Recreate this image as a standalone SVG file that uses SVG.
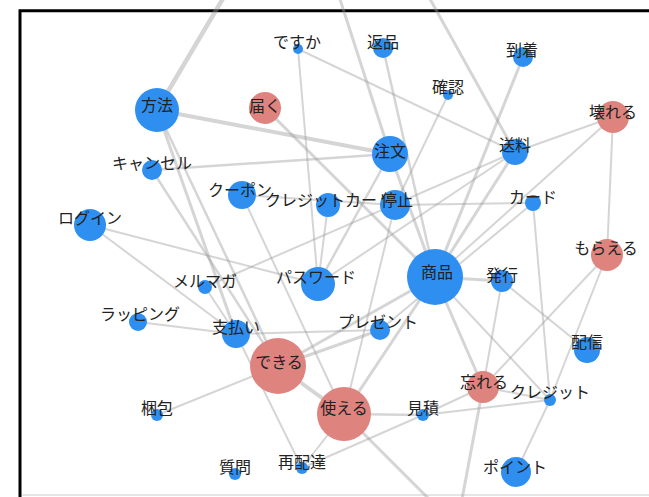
<svg xmlns="http://www.w3.org/2000/svg" width="649" height="497" viewBox="0 0 649 497">
<style>
.e{stroke:#9a9a9a;stroke-opacity:.42;fill:none;stroke-linecap:round}
.b{fill:#2e8ff0}
.r{fill:#df837f}
text{font-family:"Noto Sans CJK JP","Noto Sans",sans-serif;font-size:16px;fill:#222;text-anchor:middle}
</style>
<rect x="0" y="0" width="649" height="497" fill="#fff"/>
<path d="M20,497 V10.8 H649" fill="none" stroke="#000" stroke-width="3"/>
<line x1="22" y1="495" x2="649" y2="495" stroke="#ddd" stroke-width="1.5"/>
<g id="connectors">
<line class="e" stroke-width="4.5" x1="157" y1="110" x2="228" y2="-10"/>
<line class="e" stroke-width="4" x1="157" y1="110" x2="390" y2="154"/>
<line class="e" stroke-width="3" x1="157" y1="110" x2="236" y2="334"/>
<line class="e" stroke-width="2.5" x1="157" y1="110" x2="278" y2="366"/>
<line class="e" stroke-width="2.5" x1="152" y1="170" x2="390" y2="154"/>
<line class="e" stroke-width="2.5" x1="152" y1="170" x2="278" y2="366"/>
<line class="e" stroke-width="3" x1="265" y1="108" x2="435" y2="277"/>
<line class="e" stroke-width="2" x1="298" y1="49" x2="318" y2="284"/>
<line class="e" stroke-width="2" x1="298" y1="49" x2="515" y2="152"/>
<line class="e" stroke-width="2.5" x1="383" y1="48" x2="435" y2="277"/>
<line class="e" stroke-width="3" x1="390" y1="154" x2="337" y2="-10"/>
<line class="e" stroke-width="3" x1="515" y1="152" x2="425" y2="-10"/>
<line class="e" stroke-width="3" x1="523" y1="57" x2="435" y2="277"/>
<line class="e" stroke-width="2" x1="613" y1="117" x2="515" y2="152"/>
<line class="e" stroke-width="2" x1="613" y1="117" x2="435" y2="277"/>
<line class="e" stroke-width="2" x1="613" y1="117" x2="607" y2="255"/>
<line class="e" stroke-width="2" x1="515" y1="152" x2="205" y2="287"/>
<line class="e" stroke-width="2" x1="515" y1="152" x2="318" y2="284"/>
<line class="e" stroke-width="2" x1="395" y1="205" x2="533" y2="203"/>
<line class="e" stroke-width="2" x1="448" y1="95" x2="395" y2="205"/>
<line class="e" stroke-width="2" x1="90" y1="225" x2="318" y2="284"/>
<line class="e" stroke-width="2" x1="90" y1="225" x2="236" y2="334"/>
<line class="e" stroke-width="2" x1="138" y1="322" x2="236" y2="334"/>
<line class="e" stroke-width="2" x1="157" y1="415" x2="278" y2="366"/>
<line class="e" stroke-width="2" x1="302" y1="468" x2="344" y2="414"/>
<line class="e" stroke-width="2" x1="302" y1="468" x2="423" y2="415"/>
<line class="e" stroke-width="2" x1="236" y1="334" x2="302" y2="468"/>
<line class="e" stroke-width="2.5" x1="344" y1="414" x2="423" y2="415"/>
<line class="e" stroke-width="3" x1="344" y1="414" x2="440" y2="510"/>
<line class="e" stroke-width="4" x1="278" y1="366" x2="344" y2="414"/>
<line class="e" stroke-width="3" x1="278" y1="366" x2="380" y2="330"/>
<line class="e" stroke-width="2" x1="236" y1="334" x2="380" y2="330"/>
<line class="e" stroke-width="2" x1="483" y1="387" x2="423" y2="415"/>
<line class="e" stroke-width="2" x1="483" y1="387" x2="550" y2="400"/>
<line class="e" stroke-width="3" x1="483" y1="387" x2="435" y2="277"/>
<line class="e" stroke-width="3" x1="483" y1="387" x2="460" y2="510"/>
<line class="e" stroke-width="2" x1="550" y1="400" x2="516" y2="472"/>
<line class="e" stroke-width="2" x1="550" y1="400" x2="533" y2="203"/>
<line class="e" stroke-width="2" x1="423" y1="415" x2="550" y2="400"/>
<line class="e" stroke-width="2" x1="502" y1="281" x2="587" y2="350"/>
<line class="e" stroke-width="2" x1="607" y1="255" x2="483" y2="387"/>
<line class="e" stroke-width="2" x1="607" y1="255" x2="550" y2="400"/>
<line class="e" stroke-width="3" x1="435" y1="277" x2="502" y2="281"/>
<line class="e" stroke-width="3" x1="435" y1="277" x2="344" y2="414"/>
<line class="e" stroke-width="3" x1="435" y1="277" x2="278" y2="366"/>
<line class="e" stroke-width="2.5" x1="390" y1="154" x2="318" y2="284"/>
<line class="e" stroke-width="3" x1="390" y1="154" x2="435" y2="277"/>
<line class="e" stroke-width="2" x1="242" y1="195" x2="344" y2="414"/>
<line class="e" stroke-width="2" x1="242" y1="195" x2="395" y2="205"/>
<line class="e" stroke-width="2" x1="395" y1="205" x2="344" y2="414"/>
<line class="e" stroke-width="2" x1="502" y1="281" x2="483" y2="387"/>
<line class="e" stroke-width="2" x1="328" y1="205" x2="318" y2="284"/>
<line class="e" stroke-width="3" x1="435" y1="277" x2="515" y2="152"/>
<line class="e" stroke-width="2" x1="435" y1="277" x2="550" y2="400"/>
<line class="e" stroke-width="2" x1="380" y1="330" x2="533" y2="203"/>
<line class="e" stroke-width="2" x1="205" y1="287" x2="236" y2="334"/>
</g>
<g id="n-houhou"><circle class="b" cx="157" cy="110" r="22"/><text x="157" y="111">方法</text></g>
<g id="n-todoku"><circle class="r" cx="265" cy="108" r="16"/><text x="265" y="112">届く</text></g>
<g id="n-desuka"><circle class="b" cx="298" cy="49" r="5"/><text x="297" y="48">ですか</text></g>
<g id="n-henpin"><circle class="b" cx="383" cy="48" r="10"/><text x="383" y="48">返品</text></g>
<g id="n-touchaku"><circle class="b" cx="523" cy="57" r="10"/><text x="522" y="56">到着</text></g>
<g id="n-kakunin"><circle class="b" cx="448" cy="95" r="5"/><text x="448" y="93">確認</text></g>
<g id="n-kowareru"><circle class="r" cx="613" cy="117" r="16"/><text x="613" y="118">壊れる</text></g>
<g id="n-chuumon"><circle class="b" cx="390" cy="154" r="18"/><text x="390" y="157">注文</text></g>
<g id="n-souryou"><circle class="b" cx="515" cy="152" r="13"/><text x="515" y="151">送料</text></g>
<g id="n-cancel"><circle class="b" cx="152" cy="170" r="10"/><text x="152" y="169">キャンセル</text></g>
<g id="n-coupon"><circle class="b" cx="242" cy="195" r="14"/><text x="240" y="196">クーポン</text></g>
<g id="n-creditcard"><circle class="b" cx="328" cy="205" r="12"/><text x="329" y="206">クレジットカード</text></g>
<g id="n-teishi"><circle class="b" cx="395" cy="205" r="15"/><text x="397" y="206">停止</text></g>
<g id="n-card"><circle class="b" cx="533" cy="203" r="8"/><text x="533" y="203">カード</text></g>
<g id="n-login"><circle class="b" cx="90" cy="225" r="16"/><text x="90" y="224">ログイン</text></g>
<g id="n-merumaga"><circle class="b" cx="205" cy="287" r="7"/><text x="205" y="287">メルマガ</text></g>
<g id="n-password"><circle class="b" cx="318" cy="284" r="17"/><text x="316" y="283">パスワード</text></g>
<g id="n-shouhin"><circle class="b" cx="435" cy="277" r="28"/><text x="437" y="278">商品</text></g>
<g id="n-hakkou"><circle class="b" cx="502" cy="281" r="11"/><text x="502" y="281">発行</text></g>
<g id="n-moraeru"><circle class="r" cx="607" cy="255" r="16"/><text x="606" y="254">もらえる</text></g>
<g id="n-wrapping"><circle class="b" cx="138" cy="322" r="9"/><text x="140" y="320">ラッピング</text></g>
<g id="n-shiharai"><circle class="b" cx="236" cy="334" r="14"/><text x="236" y="333">支払い</text></g>
<g id="n-present"><circle class="b" cx="380" cy="330" r="10"/><text x="378" y="328">プレゼント</text></g>
<g id="n-haishin"><circle class="b" cx="587" cy="350" r="13"/><text x="587" y="348">配信</text></g>
<g id="n-dekiru"><circle class="r" cx="278" cy="366" r="28"/><text x="279" y="368">できる</text></g>
<g id="n-tsukaeru"><circle class="r" cx="344" cy="414" r="27"/><text x="344" y="414">使える</text></g>
<g id="n-wasureru"><circle class="r" cx="483" cy="387" r="16"/><text x="484" y="388">忘れる</text></g>
<g id="n-credit"><circle class="b" cx="550" cy="400" r="6"/><text x="550" y="398">クレジット</text></g>
<g id="n-mitsumori"><circle class="b" cx="423" cy="415" r="6"/><text x="423" y="414">見積</text></g>
<g id="n-konpou"><circle class="b" cx="157" cy="415" r="6"/><text x="157" y="414">梱包</text></g>
<g id="n-shitsumon"><circle class="b" cx="235" cy="474" r="6"/><text x="235" y="473">質問</text></g>
<g id="n-saihaitatsu"><circle class="b" cx="302" cy="468" r="6"/><text x="302" y="468">再配達</text></g>
<g id="n-point"><circle class="b" cx="516" cy="472" r="15"/><text x="515" y="473">ポイント</text></g>
</svg>
